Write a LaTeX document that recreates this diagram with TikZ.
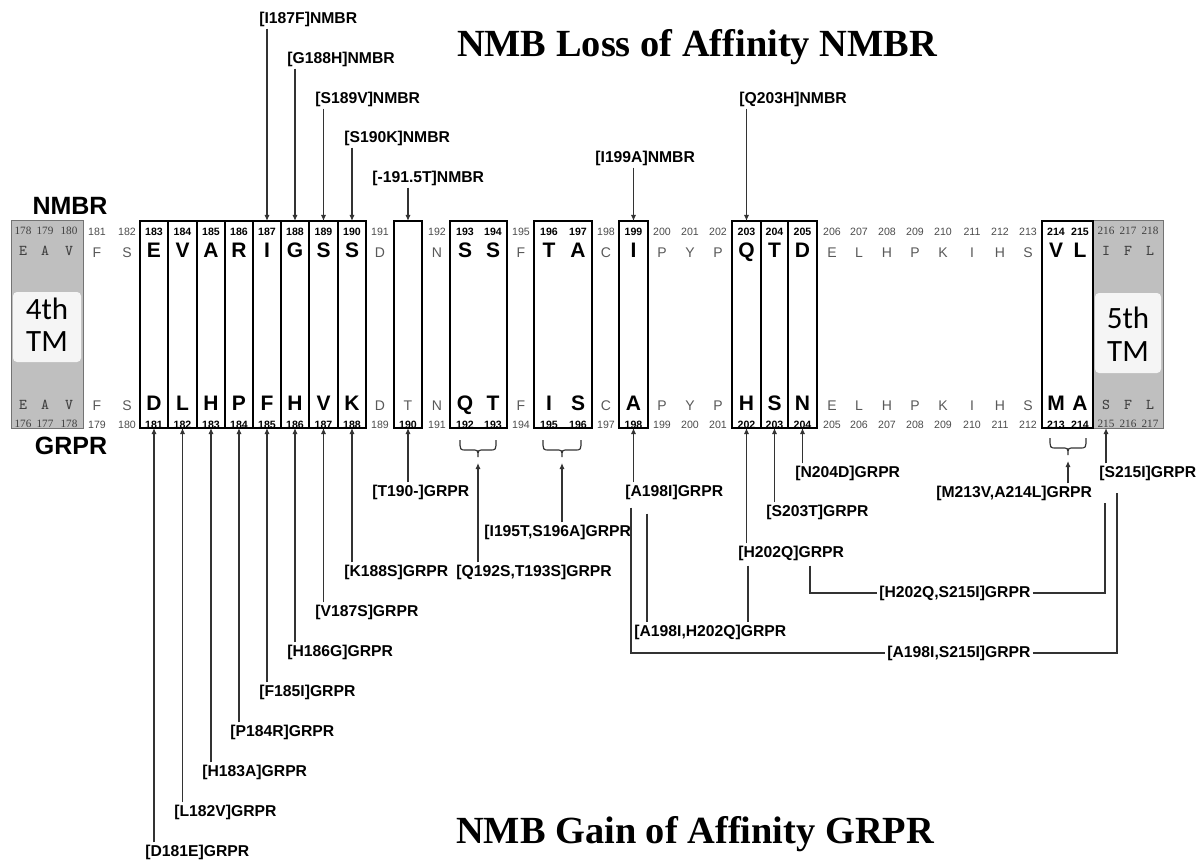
\documentclass[tikz,border=0pt]{standalone}
\usepackage{fontspec}
\setmainfont{Liberation Serif}
\newfontfamily\arialf{Liberation Sans}
\newfontfamily\calibf{Carlito}
\usetikzlibrary{arrows.meta}
\begin{document}
\begin{tikzpicture}[x=0.5pt,y=-0.5pt,
  lab/.style={font=\arialf\bfseries\fontsize{7.85}{9}\selectfont, inner sep=1pt, anchor=west},
  ln/.style={draw=black!80, line width=0.6pt},
  arr/.style={ln, -{Latex[length=3pt,width=2.6pt]}},
  bx/.style={draw=black, line width=0.9pt},
  blet/.style={font=\arialf\bfseries\fontsize{10.5}{12}\selectfont, inner sep=0pt, text height=0.72em, text depth=0pt},
  slet/.style={font=\arialf\fontsize{7}{8}\selectfont, text=black!65, inner sep=0pt, text height=0.72em, text depth=0pt},
  mlet/.style={font=\ttfamily\fontsize{7.5}{8}\selectfont, text=black!75, inner sep=0pt, text height=0.6em, text depth=0pt},
  bnum/.style={font=\arialf\bfseries\fontsize{5.3}{6}\selectfont, inner sep=0pt, text height=0.72em, text depth=0pt},
  snum/.style={font=\arialf\fontsize{5.3}{6}\selectfont, text=black!70, inner sep=0pt, text height=0.72em, text depth=0pt},
  gnum/.style={font=\fontsize{5.6}{6}\selectfont, text=black!75, inner sep=0pt, text height=0.66em, text depth=0pt},
  side/.style={font=\arialf\bfseries\fontsize{12.5}{14}\selectfont, inner sep=0pt, text height=0.72em, text depth=0pt},
  tm/.style={font=\calibf\fontsize{15.5}{16}\selectfont, inner sep=0pt, text height=0.64em, text depth=0pt},
  ttl/.style={font=\bfseries\fontsize{19.2}{22}\selectfont, inner sep=0pt, anchor=base}
]
\useasboundingbox (0,0) rectangle (1198,861);
\fill[white] (0,0) rectangle (1198,861);

% reference lines
\coordinate (topline) at (0,221);
\coordinate (botline) at (0,428);

% transmembrane grey blocks
\fill[gray!50] (11,221) rectangle (83,428);
\draw[black!55, line width=0.5pt] (11,221) rectangle (83,428);
\fill[gray!8, rounded corners=2pt] (13,292) rectangle (81,362);
\fill[gray!50] (1093,221) rectangle (1163,428);
\draw[black!55, line width=0.5pt] (1093,221) rectangle (1163,428);
\fill[gray!8, rounded corners=2pt] (1095,293) rectangle (1161,373);
\node[tm] (tm4a) at (47,313) {4th};
\node[tm] (tm4b) at (47,345) {TM};
\node[tm] (tm5a) at (1128,322) {5th};
\node[tm] (tm5b) at (1128,355) {TM};

% boxes
\draw[bx] (140,221) rectangle (366,428);
\foreach \d in {168.25,196.75,225,253,281,309.25,337.75} \draw[bx] (\d,221) -- (\d,428);
\draw[bx] (394,221) rectangle (422,428);
\draw[bx] (450,221) rectangle (507,428);
\draw[bx] (534,221) rectangle (592,428);
\draw[bx] (619,221) rectangle (648,428);
\draw[bx] (732,221) rectangle (817,428);
\draw[bx] (761,221) -- (761,428);
\draw[bx] (788,221) -- (788,428);
\draw[bx] (1042,221) rectangle (1093,428);

% grey columns
\foreach \x/\a/\b/\c/\d in {23/178/E/176/E, 45/179/A/177/A, 69/180/V/178/V, 1106/216/I/215/S, 1128/217/F/216/F, 1150/218/L/217/L}{
  \node[gnum] (tn\a) at (\x,228) {\a};
  \node[mlet] (tl\a) at (\x,250) {\b};
  \node[mlet] (bl\c) at (\x,403) {\d};
  \node[gnum] (bn\c) at (\x,421) {\c};
}
% plain columns
\foreach \x/\a/\b/\c/\d in {97/181/F/179/F, 127/182/S/180/S, 380/191/D/189/D, 437/192/N/191/N, 521/195/F/194/F, 606/198/C/197/C, 662/200/P/199/P, 690/201/Y/200/Y, 718/202/P/201/P, 832/206/E/205/E, 859/207/L/206/L, 887/208/H/207/H, 915/209/P/208/P, 943/210/K/209/K, 972/211/I/210/I, 1000/212/H/211/H, 1028/213/S/212/S}{
  \node[snum] (tn\a) at (\x,228) {\a};
  \node[slet] (tl\a) at (\x,250) {\b};
  \node[slet] (bl\c) at (\x,403) {\d};
  \node[snum] (bn\c) at (\x,421) {\c};
}
% boxed columns
\foreach \x/\a/\b/\c/\d in {154/183/E/181/D, 182.5/184/V/182/L, 211/185/A/183/H, 239/186/R/184/P, 267/187/I/185/F, 295/188/G/186/H, 323.5/189/S/187/V, 352/190/S/188/K, 465/193/S/192/Q, 493/194/S/193/T, 549/196/T/195/I, 578/197/A/196/S, 633.5/199/I/198/A, 746.5/203/Q/202/H, 774.5/204/T/203/S, 802.5/205/D/204/N, 1056/214/V/213/M, 1080/215/L/214/A}{
  \node[bnum] (tn\a) at (\x,228) {\a};
  \node[blet] (tl\a) at (\x,250) {\b};
  \node[blet] (bl\c) at (\x,403) {\d};
  \node[bnum] (bn\c) at (\x,421) {\c};
}
\node[slet] (bl190) at (408,403) {T};
\node[bnum] (bn190) at (408,421) {190};

% side labels and titles
\node[side] (nmbr) at (70,207) {NMBR};
\node[side] (grpr) at (71,447) {GRPR};
\node[ttl] (title1) at (697,57) {NMB Loss of Affinity NMBR};
\node[ttl] (title2) at (695,843) {NMB Gain of Affinity GRPR};

% NMBR mutants (top)
\node[lab] (n187) at (257,19) {[I187F]NMBR};
\node[lab] (n188) at (285,59) {[G188H]NMBR};
\node[lab] (n189) at (313,99) {[S189V]NMBR};
\node[lab] (n190) at (342,138) {[S190K]NMBR};
\node[lab] (n1915) at (370,178) {[-191.5T]NMBR};
\node[lab] (n199) at (593,158) {[I199A]NMBR};
\node[lab] (n203) at (737,99) {[Q203H]NMBR};
\draw[arr] (n187.south -| tn187) -- (tn187 |- topline);
\draw[arr] (n188.south -| tn188) -- (tn188 |- topline);
\draw[arr] (n189.south -| tn189) -- (tn189 |- topline);
\draw[arr] (n190.south -| tn190) -- (tn190 |- topline);
\draw[arr] (n1915.south -| bn190) -- (bn190 |- topline);
\draw[arr] (n199.south -| tn199) -- (tn199 |- topline);
\draw[arr] (n203.south -| tn203) -- (tn203 |- topline);

% GRPR mutants (bottom)
\node[lab] (g181) at (143,852) {[D181E]GRPR};
\node[lab] (g182) at (172,812) {[L182V]GRPR};
\node[lab] (g183) at (200,772) {[H183A]GRPR};
\node[lab] (g184) at (228,732) {[P184R]GRPR};
\node[lab] (g185) at (257,692) {[F185I]GRPR};
\node[lab] (g186) at (285,652) {[H186G]GRPR};
\node[lab] (g187) at (313,612) {[V187S]GRPR};
\node[lab] (g188) at (342,572) {[K188S]GRPR};
\node[lab] (g190) at (370,492) {[T190-]GRPR};
\node[lab] (g192) at (454,572) {[Q192S,T193S]GRPR};
\node[lab] (g195) at (482,532) {[I195T,S196A]GRPR};
\node[lab] (g198) at (623,492) {[A198I]GRPR};
\node[lab] (g202) at (736,553) {[H202Q]GRPR};
\node[lab] (g203) at (764,512) {[S203T]GRPR};
\node[lab] (g204) at (793,473) {[N204D]GRPR};
\node[lab] (g213) at (934,493) {[M213V,A214L]GRPR};
\node[lab] (g215) at (1097,473) {[S215I]GRPR};
\node[lab] (g198202) at (632,632) {[A198I,H202Q]GRPR};
\node[lab] (g202215) at (877,593) {[H202Q,S215I]GRPR};
\node[lab] (g198215) at (885,653) {[A198I,S215I]GRPR};

\foreach \n/\c in {g181/bn181, g182/bn182, g183/bn183, g184/bn184, g185/bn185, g186/bn186, g187/bn187, g188/bn188, g190/bn190, g198/bn198, g202/bn202, g203/bn203, g204/bn204, g215/bn215}
  \draw[arr] (\n.north -| \c) -- (\c |- botline);

% braces
\draw[ln] (460,440) .. controls (460,450) .. (466,450) -- (472,450) .. controls (478,450) .. (478,457) .. controls (478,450) .. (484,450) -- (490,450) .. controls (496,450) .. (496,440);
\draw[ln] (543,440) .. controls (543,450) .. (549,450) -- (556,450) .. controls (562,450) .. (562,457) .. controls (562,450) .. (568,450) -- (575,450) .. controls (581,450) .. (581,440);
\draw[ln] (1050,438) .. controls (1050,448) .. (1056,448) -- (1062,448) .. controls (1068,448) .. (1068,455) .. controls (1068,448) .. (1074,448) -- (1080,448) .. controls (1086,448) .. (1086,438);
\coordinate (br1) at (478,463);
\coordinate (br2) at (562,463);
\coordinate (br3) at (1068,461);
\draw[arr] (g192.north -| br1) -- (br1);
\draw[arr] (g195.north -| br2) -- (br2);
\draw[arr] (g213.north -| br3) -- (br3);

% combination connectors
\coordinate (x631) at (631,0);
\coordinate (x647) at (647,0);
\coordinate (x748) at (748,0);
\coordinate (x810) at (810,0);
\coordinate (x1105) at (1105,0);
\coordinate (x1117) at (1117,0);
\draw[ln, shorten <=3pt] (g198.south -| x631) |- (g198215.west);
\draw[ln, shorten <=6pt] (g198.south -| x647) -- (g198202.north -| x647);
\draw[ln, shorten <=1.5pt] (g202.south -| x748) -- (g198202.north -| x748);
\draw[ln, shorten <=1.5pt] (g202.south -| x810) |- (g202215.west);
\draw[ln, shorten >=10pt] (g202215.east) -| (g215.south -| x1105);
\draw[ln, shorten >=5pt] (g198215.east) -| (g215.south -| x1117);
\end{tikzpicture}
\end{document}
